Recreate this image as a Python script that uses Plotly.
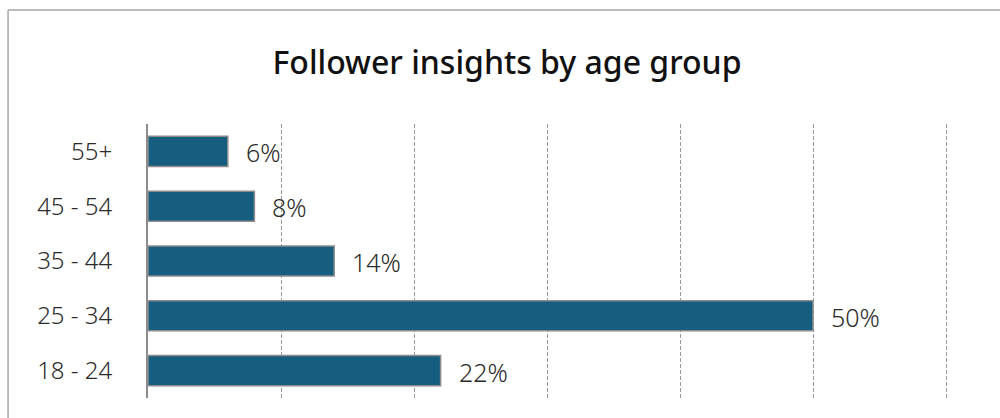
import plotly.graph_objects as go

# Follower share per age group
age_groups = ["18 - 24", "25 - 34", "35 - 44", "45 - 54", "55+"]
shares = [22, 50, 14, 8, 6]
share_labels = ["22%", "50%", "14%", "8%", "6%"]

BAR_COLOR = "#165e80"
GRID_COLOR = "#9a9a9a"
FONT = "Noto Sans"

fig = go.Figure()
fig.add_trace(go.Bar(
    y=age_groups,
    x=shares,
    orientation="h",
    marker=dict(color=BAR_COLOR, line=dict(color="#8c8c8c", width=1.5)),
    hoverinfo="skip",
))

# value labels just past the end of each bar
for g, v, t in zip(age_groups, shares, share_labels):
    fig.add_annotation(
        x=v, y=g, text=t, showarrow=False,
        xanchor="left", yanchor="middle", xshift=16, yshift=-1,
        font=dict(family=FONT, size=25, color="#2a2a2a", weight=300),
    )

fig.update_layout(
    width=1000, height=418,
    margin=dict(l=148, r=50, t=124, b=20),
    paper_bgcolor="white",
    plot_bgcolor="white",
    showlegend=False,
    bargap=0.45,
    title=dict(
        text="Follower insights by age group",
        x=0.507, xref="container", xanchor="center",
        y=1 - 63 / 418, yref="container", yanchor="middle",
        font=dict(family=FONT, size=32, color="#111111", weight=500),
    ),
    xaxis=dict(
        range=[0, 60.3], dtick=10,
        showgrid=True, gridcolor=GRID_COLOR, griddash="4px,2px", gridwidth=1,
        showticklabels=False, zeroline=False, showline=False, ticks="",
        fixedrange=True,
    ),
    yaxis=dict(
        range=[-0.5, 4.5],
        showline=True, linecolor="#8c8c8c", linewidth=2,
        showgrid=False, zeroline=False, ticks="",
        ticklabelstandoff=29,
        tickfont=dict(family=FONT, size=24, color="#2a2a2a", weight=300),
        fixedrange=True,
    ),
    shapes=[
        # chart frame (left and top edges visible)
        dict(type="line", xref="paper", yref="paper",
             x0=-0.1745, x1=1.2, y0=1.416, y1=1.416,
             line=dict(color="#a6a6a6", width=1.5)),
        dict(type="line", xref="paper", yref="paper",
             x0=-0.1745, x1=-0.1745, y0=1.416, y1=-0.2,
             line=dict(color="#a6a6a6", width=1.5)),
    ],
)

fig.write_html("out.html", config={"displayModeBar": False})
